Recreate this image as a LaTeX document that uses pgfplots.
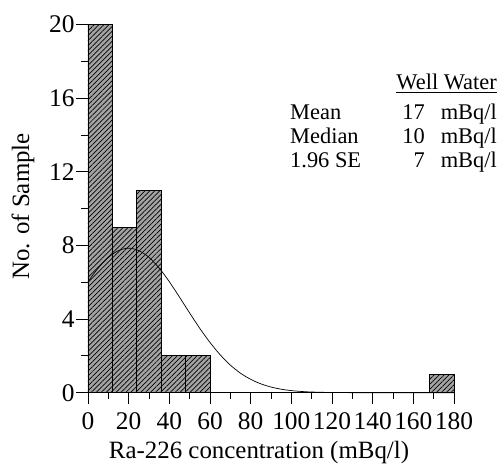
\documentclass[border=0pt]{standalone}
\usepackage{fontspec}
\setmainfont{Liberation Serif}
\usepackage{pgfplots}
\pgfplotsset{compat=1.18}
\usetikzlibrary{patterns.meta}

\begin{document}
\begin{tikzpicture}
\begin{axis}[
  scale only axis, width=366bp, height=368.2bp,
  xmin=0, xmax=180, ymin=0, ymax=20,
  axis x line=bottom, axis y line=left,
  axis line style={-, line width=0.8bp},
  xtick={0,20,...,180}, ytick={0,4,...,20},
  minor x tick num=1, minor y tick num=1,
  tick align=outside, major tick length=11.5bp, minor tick length=6.5bp,
  every tick/.style={black, line width=0.8bp},
  ticklabel style={font=\fontsize{25.5}{27}\selectfont},
  xticklabel style={yshift=-4.5bp},
  yticklabel style={xshift=1.5bp},
  /pgf/number format/assume math mode=true,
  xlabel={Ra-226 concentration (mBq/l)}, ylabel={No. of Sample},
  label style={font=\fontsize{25}{27}\selectfont},
  xlabel style={at={(axis description cs:0.4672,-0.1793)}, anchor=base},
  ylabel style={at={(axis description cs:-0.1612,0.5057)}, anchor=base},
  clip=false,
]
\addplot[ybar interval, draw=black, line width=0.8bp, fill=gray!72,
  postaction={pattern={Lines[angle=45,distance=3.5pt,line width=0.7pt]}}]
  coordinates {(0,20) (12,9) (24,11) (36,2) (48,2) (60,2)};
\addplot[ybar interval, draw=black, line width=0.8bp, fill=gray!72,
  postaction={pattern={Lines[angle=45,distance=3.5pt,line width=0.7pt]}}]
  coordinates {(168,1) (180,1)};
\addplot[black, line width=0.7bp, smooth, mark=none] coordinates {
  (0,6.03) (5,6.77) (10,7.35) (15,7.72) (20,7.85) (25,7.72) (30,7.35)
  (35,6.77) (40,6.03) (45,5.19) (50,4.33) (55,3.49) (60,2.73) (65,2.06)
  (70,1.50) (75,1.06) (80,0.727) (85,0.481) (90,0.307) (95,0.190)
  (100,0.114) (105,0.066) (110,0.037) (120,0.0105) (130,0.002)
  (140,0) (150,0) (160,0) (170,0) (180,0)};
\end{axis}
\begin{scope}[every node/.style={font=\fontsize{22.5}{24}\selectfont, inner sep=0pt}]
\node[anchor=base east] at (409bp,302.7bp) {\underline{Well Water}};
\node[anchor=base west] at (202bp,272.7bp) {Mean};
\node[anchor=base west] at (202bp,248.7bp) {Median};
\node[anchor=base west] at (202bp,225bp) {1.96 SE};
\node[anchor=base east] at (337bp,272.7bp) {17};
\node[anchor=base east] at (337bp,248.7bp) {10};
\node[anchor=base east] at (337bp,225bp) {7};
\node[anchor=base east] at (409bp,272.7bp) {mBq/l};
\node[anchor=base east] at (409bp,248.7bp) {mBq/l};
\node[anchor=base east] at (409bp,225bp) {mBq/l};
\end{scope}
\pgfresetboundingbox
\useasboundingbox (-88bp,-71.3bp) rectangle (411bp,392.7bp);
\end{tikzpicture}
\end{document}
